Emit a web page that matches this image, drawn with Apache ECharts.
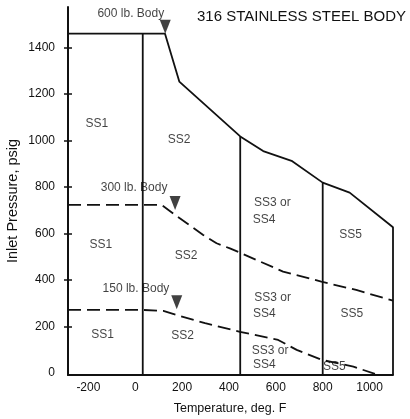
<!DOCTYPE html>
<html>
<head>
<meta charset="utf-8">
<script src="https://cdn.jsdelivr.net/npm/echarts@6/dist/echarts.min.js"></script>
<style>
  html, body { margin: 0; padding: 0; background: #fff; }
  #chart { width: 410px; height: 419px; }
</style>
</head>
<body>
<div id="chart"></div>
<script>
// ===== data (temperature deg F, pressure psig) =====
var xTicks = [-200, 0, 200, 400, 600, 800, 1000];
var yTicks = [0, 200, 400, 600, 800, 1000, 1200, 1400];
var yTickMarks = [200, 400, 600, 800, 1000, 1200, 1400];

var body600 = [[-287, 1460], [127, 1460], [188, 1254], [448, 1018], [546, 955], [667, 913],
               [800, 819], [915, 776], [1100, 627], [1100, -9]];
var body300 = [[-287, 723], [113, 723], [170, 680], [290, 594], [347, 558], [404, 536],
               [448, 517], [518, 486], [631, 436], [794, 393], [943, 357], [1100, 311]];
var body150 = [[-287, 271], [33, 271], [120, 267], [177, 249], [298, 214], [447, 177],
               [610, 142], [689, 99], [796, 56], [931, 27], [1037, -9]];

var divider0 = [[32, 1460], [32, -9]];
var divider450 = [[448, 1018], [448, -9]];
var divider800 = [[800, 819], [800, -9]];

var arrowTips = [[128, 1460], [170, 701], [177, 274]];

// labels centred on a point
var centerLabels = [
    [-19, 1548, '600 lb. Body'],
    [-5, 797, '300 lb. Body'],
    [3, 361, '150 lb. Body'],
    [-164, 1071, 'SS1'],
    [-147, 553, 'SS1'],
    [-139, 166, 'SS1'],
    [187, 1002, 'SS2'],
    [217, 503, 'SS2'],
    [202, 159, 'SS2'],
    [919, 596, 'SS5'],
    [924, 253, 'SS5'],
    [850, 27, 'SS5']
];
// labels starting at a point
var leftLabels = [
    [507, 733, 'SS3 or'],
    [501, 661, 'SS4'],
    [508, 325, 'SS3 or'],
    [502, 253, 'SS4'],
    [497, 94, 'SS3 or'],
    [502, 37, 'SS4']
];

var FONT = '"Liberation Sans", Arial, sans-serif';
var INK = '#111';

var chart = echarts.init(document.getElementById('chart'));

function lineSeries(data, dashed) {
    return {
        type: 'line',
        data: data,
        symbol: 'none',
        silent: true,
        lineStyle: { color: INK, width: 1.8, type: dashed ? [13, 6] : 'solid' },
        z: 3
    };
}

function textSeries(data, align) {
    return {
        type: 'scatter',
        data: data,
        symbolSize: 0,
        silent: true,
        z: 6,
        label: {
            show: true,
            position: 'inside',
            align: align,
            verticalAlign: 'middle',
            color: INK,
            fontFamily: FONT,
            fontSize: 12,
            formatter: function (p) { return p.data[2]; }
        }
    };
}

function plain(v) { return String(v); }

chart.setOption({
    animation: false,
    backgroundColor: '#fff',
    title: {
        text: '316 STAINLESS STEEL BODY',
        left: 197,
        top: 9,
        padding: 0,
        textStyle: { fontFamily: FONT, fontSize: 15, fontWeight: 'normal', color: INK }
    },
    grid: { left: 68, right: 17, top: 7, bottom: 44, outerBoundsMode: 'none' },
    xAxis: {
        type: 'value',
        min: -287,
        max: 1100,
        splitLine: { show: false },
        axisLine: { onZero: false, lineStyle: { color: INK, width: 2 } },
        axisTick: { show: false },
        axisLabel: {
            customValues: xTicks,
            formatter: plain,
            margin: 7,
            color: INK,
            fontFamily: FONT,
            fontSize: 12
        }
    },
    yAxis: [
        {
            type: 'value',
            position: 'left',
            min: -9,
            max: 1575,
            splitLine: { show: false },
            axisLine: { onZero: false, lineStyle: { color: INK, width: 2 } },
            axisTick: { customValues: yTickMarks, length: 4, lineStyle: { color: INK, width: 1.5 } },
            axisLabel: {
                customValues: yTicks,
                formatter: plain,
                margin: 13,
                color: INK,
                fontFamily: FONT,
                fontSize: 12
            }
        },
        {
            type: 'value',
            position: 'left',
            offset: 0,
            min: -9,
            max: 1575,
            splitLine: { show: false },
            axisLine: { show: false, onZero: false },
            axisTick: { customValues: yTickMarks, inside: true, length: 4, lineStyle: { color: INK, width: 1.5 } },
            axisLabel: { show: false }
        }
    ],
    graphic: [
        {
            type: 'text',
            x: 230,
            y: 409,
            style: {
                text: 'Temperature, deg. F',
                fill: INK,
                font: '12.5px ' + FONT,
                textAlign: 'center',
                textVerticalAlign: 'middle'
            }
        },
        {
            type: 'text',
            x: 13,
            y: 201,
            rotation: Math.PI / 2,
            style: {
                text: 'Inlet Pressure, psig',
                fill: INK,
                font: '14.5px ' + FONT,
                textAlign: 'center',
                textVerticalAlign: 'middle'
            }
        }
    ],
    series: [
        lineSeries(body600, false),
        lineSeries(divider0, false),
        lineSeries(divider450, false),
        lineSeries(divider800, false),
        lineSeries(body300, true),
        lineSeries(body150, true),
        {
            type: 'scatter',
            data: arrowTips,
            symbol: 'path://M0,0 L11,0 L5.5,14 Z',
            symbolSize: [11, 14],
            symbolOffset: [0, -7],
            itemStyle: { color: INK },
            silent: true,
            z: 5
        },
        textSeries(centerLabels, 'center'),
        textSeries(leftLabels, 'left')
    ]
});

window.addEventListener('resize', function () {
    try { chart.resize(); } catch (e) {}
});
</script>
</body>
</html>
